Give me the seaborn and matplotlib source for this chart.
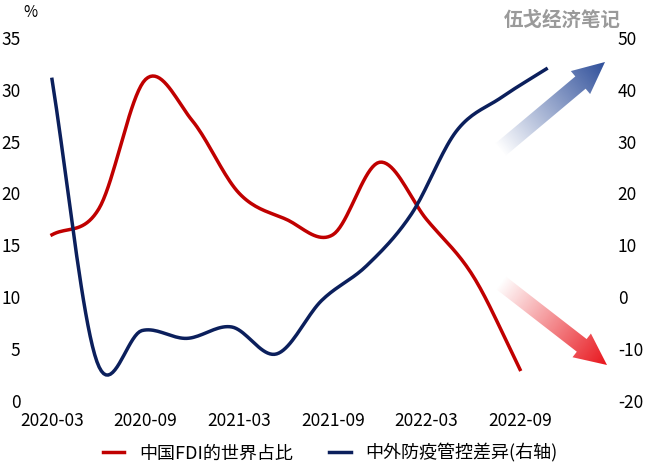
import numpy as np
import matplotlib
matplotlib.use("Agg")
import matplotlib.pyplot as plt
from matplotlib import font_manager as fm
import seaborn as sns
from matplotlib.patches import Polygon
from matplotlib.colors import LinearSegmentedColormap

cjk = [f for f in fm.findSystemFonts() if "CJK" in f or "cjk" in f.lower()]
fam = "DejaVu Sans"
for f in cjk:
    try:
        fm.fontManager.addfont(f)
    except Exception:
        pass
names = [fm.FontProperties(fname=f).get_name() for f in cjk] if cjk else []
for pref in ["Noto Sans CJK SC", "Noto Sans SC"]:
    if pref in names:
        fam = pref; break
else:
    if names: fam = names[0]
plt.rcParams["font.family"] = [fam, "DejaVu Sans"]
plt.rcParams["axes.unicode_minus"] = False

quarters = ["2020-03","2020-06","2020-09","2020-12","2021-03","2021-06","2021-09",
            "2021-12","2022-03","2022-06","2022-09","2022-12"]
fdi_share = [16, 18.5, 31, 27, 20, 17.5, 16, 23, 17.5, 12, 3, None]
control_gap = [42, -12.5, -6.5, -8, -5.8, -11, -0.7, 6, 16, 32, 38.5, 44]
tick_labels = ["2020-03","2020-09","2021-03","2021-09","2022-03","2022-09"]

def smooth(xs, ys, n=20):
    xs = np.asarray(xs, float); ys = np.asarray(ys, float)
    P = np.column_stack([xs, ys])
    P = np.vstack([2*P[0]-P[1], P, 2*P[-1]-P[-2]])
    out = []
    for i in range(1, len(P)-2):
        p0, p1, p2, p3 = P[i-1], P[i], P[i+1], P[i+2]
        for t in np.linspace(0, 1, n, endpoint=False):
            out.append(0.5*((2*p1)+(-p0+p2)*t+(2*p0-5*p1+4*p2-p3)*t**2+(-p0+3*p1-3*p2+p3)*t**3))
    out.append(P[-2])
    out = np.array(out)
    return out[:, 0], out[:, 1]

fig = plt.figure(figsize=(6.6, 4.74), dpi=100)
# index 0 at x=52px, index 10 at x=520px
ppq = 46.8
left_px, right_px = 40, 590
ax = fig.add_axes([left_px/660, 0.155, (right_px-left_px)/660, 0.765])
ax2 = ax.twinx()

xi = np.arange(len(quarters))
fx = [i for i, v in zip(xi, fdi_share) if v is not None]
fy = [v for v in fdi_share if v is not None]
sx, sy = smooth(fx, fy)
sns.lineplot(x=sx, y=sy, ax=ax, color="#C00000", lw=2.5, sort=False, label="中国FDI的世界占比", legend=False)
bx, by = smooth(xi, control_gap)
sns.lineplot(x=bx*0.96, y=by, ax=ax2, color="#0B1F5C", lw=2.5, sort=False, label="中外防疫管控差异(右轴)", legend=False)

x0 = -(52-left_px)/ppq
ax.set_xlim(x0, x0 + (right_px-left_px)/ppq)
ax.set_ylim(0, 35); ax2.set_ylim(-20, 50)
ax.set_yticks(range(0, 36, 5)); ax2.set_yticks(range(-20, 51, 10))
ax.set_xticks(xi[::2]); ax.set_xticklabels(tick_labels)
for a in (ax, ax2):
    for s in a.spines.values(): s.set_visible(False)
    a.tick_params(length=0, labelsize=12.5)
ax.tick_params(axis="x", pad=8)
ax.tick_params(axis="y", pad=14)
ax2.tick_params(axis="y", pad=20)
fig.text(0.035, 0.965, "%", fontsize=11)
fig.text(0.94, 0.945, "伍戈经济笔记", fontsize=14, color="#9a9a9a", ha="right", weight="bold")

h1, l1 = ax.get_legend_handles_labels(); h2, l2 = ax2.get_legend_handles_labels()
fig.legend(h1+h2, l1+l2, loc="lower center", ncol=2, frameon=False, fontsize=13,
           bbox_to_anchor=(0.5, -0.01), handlelength=1.2, columnspacing=2)

def grad_arrow(start, end, color):
    ov = fig.add_axes([0, 0, 1, 1], zorder=5); ov.set_xlim(0, 660); ov.set_ylim(474, 0); ov.axis("off")
    s = np.array(start, float); e = np.array(end, float)
    d = e - s; L = np.linalg.norm(d); u = d / L; n = np.array([-u[1], u[0]])
    w, hw, hl = 16, 30, 32
    b = e - u*hl
    pts = [s+n*w/2, b+n*w/2, b+n*hw/2, e, b-n*hw/2, b-n*w/2, s-n*w/2]
    poly = Polygon(pts, closed=True, fc="none", ec="none"); ov.add_patch(poly)
    X, Y = np.meshgrid(np.arange(660), np.arange(474))
    t = np.clip(((X - s[0])*u[0] + (Y - s[1])*u[1]) / L, 0, 1)
    cmap = LinearSegmentedColormap.from_list("g", ["#ffffff", color])
    im = ov.imshow(t, cmap=cmap, extent=(0, 660, 474, 0), origin="upper", vmin=0, vmax=1)
    im.set_clip_path(poly)

grad_arrow((500, 150), (605, 62), "#2F4F9A")
grad_arrow((500, 282), (607, 365), "#E8141B")
fig.savefig("out.png", dpi=100)
